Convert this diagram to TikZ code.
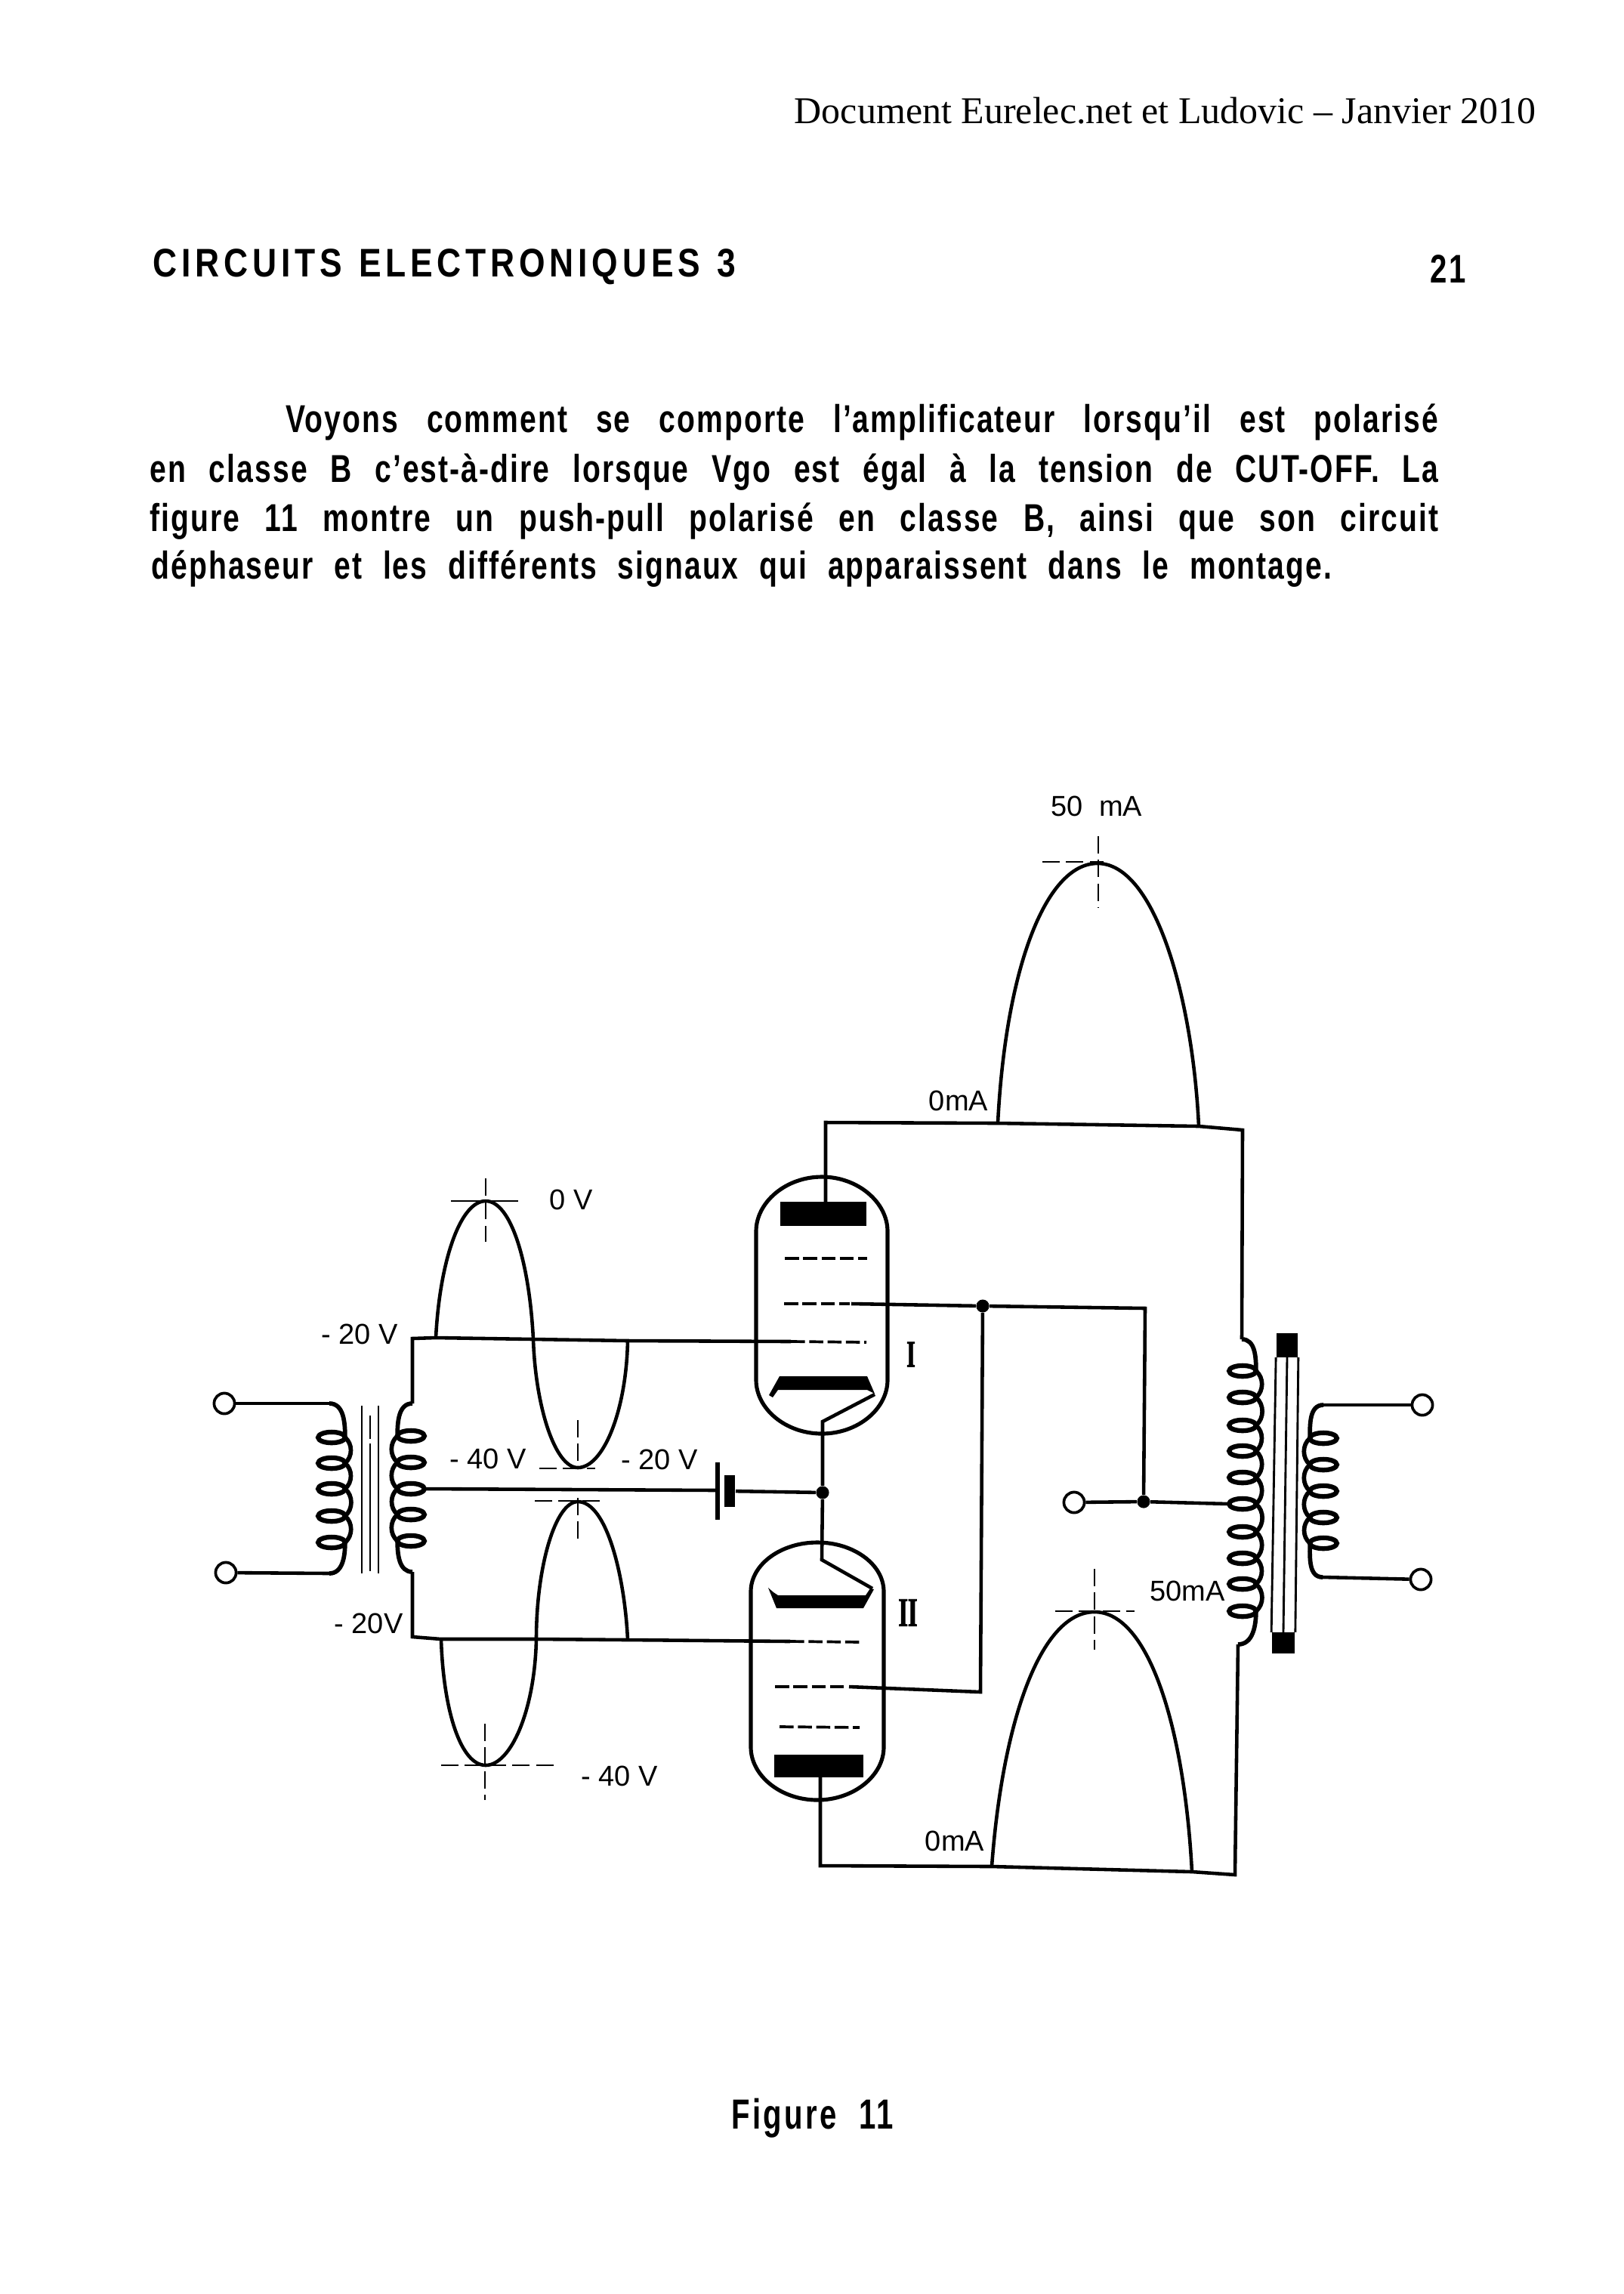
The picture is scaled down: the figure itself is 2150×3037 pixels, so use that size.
\documentclass[tikz,border=0pt]{standalone}
\usepackage{fontspec}
\setmainfont{Liberation Serif}
\setsansfont{Liberation Sans}
\newfontfamily\scanfont[FakeStretch=0.76,LetterSpace=4]{Liberation Sans}
\newfontfamily\titlefont[FakeStretch=0.84,LetterSpace=11]{Liberation Sans}
\newfontfamily\figfont[FakeStretch=0.72,LetterSpace=6]{Liberation Sans}
\newfontfamily\tubefont[FakeStretch=0.6,FakeBold=1.5]{Liberation Serif}
\usetikzlibrary{shapes.geometric}
\tikzset{
    wire/.style={line width=1.6pt},
    wave/.style={line width=1.6pt},
    tube/.style={line width=1.8pt},
    cross/.style={line width=1pt, dash pattern=on 8pt off 3pt},
    griddash/.style={line width=1.3pt, dash pattern=on 6.5pt off 2pt},
    coreline/.style={line width=1pt},
    turn/.style={ellipse, draw, line width=2.2pt, minimum width=12.5pt, minimum height=5pt, inner sep=0pt, outer sep=0pt},
    scallop/.style={line width=2pt},
    terminal/.style={circle, draw, fill=white, line width=1.3pt, minimum size=9.5pt, inner sep=0pt},
    dot/.style={circle, fill=black, minimum size=6pt, inner sep=0pt},
    block/.style={rectangle, fill=black, inner sep=0pt},
    label/.style={inner sep=0pt, font=\sffamily\fontsize{13.3}{15}\selectfont},
    bookline/.style={anchor=base west, inner sep=0pt, font=\scanfont\bfseries\fontsize{18}{20}\selectfont},
}
\begin{document}
\begin{tikzpicture}[x=0.35pt, y=-0.35pt]
    \useasboundingbox (0,0) rectangle (2150,3037);

    \node[anchor=base east, inner sep=0pt, font=\fontsize{17.5}{19}\selectfont] (header) at (2034,163) {Document Eurelec.net et Ludovic – Janvier 2010};
    \node[anchor=base west, inner sep=0pt, font=\titlefont\bfseries\fontsize{18.5}{20}\selectfont] (title) at (202,366) {\makebox[270pt][s]{CIRCUITS ELECTRONIQUES 3}};
    \node[anchor=base east, inner sep=0pt, font=\scanfont\bfseries\fontsize{18.5}{20}\selectfont] (page) at (1941,374) {21};
    \node[bookline] (line1) at (378,572) {\makebox[534pt][s]{Voyons comment se comporte l’amplificateur lorsqu’il est polarisé}};
    \node[bookline] (line2) at (198,638) {\makebox[597pt][s]{en classe B c’est-à-dire lorsque Vgo est égal à la tension de CUT-OFF. La}};
    \node[bookline] (line3) at (198,703) {\makebox[597pt][s]{figure 11 montre un push-pull polarisé en classe B, ainsi que son circuit}};
    \node[bookline] (line4) at (200,766) {\makebox[547pt][s]{déphaseur et les différents signaux qui apparaissent dans le montage.}};
    \node[anchor=base west, inner sep=0pt, font=\figfont\bfseries\fontsize{19.5}{22}\selectfont] (figure) at (968,2818) {\makebox[75pt][s]{Figure 11}};

    \node[terminal] (in1) at (297,1858) {};
    \node[terminal] (in2) at (299,2082) {};
    \node[terminal] (mid) at (1422,1989) {};
    \node[terminal] (out1) at (1883,1860) {};
    \node[terminal] (out2) at (1881,2091) {};

    \node[turn] (p1) at (439,1903) {};
    \node[turn] (p2) at (439,1937) {};
    \node[turn] (p3) at (439,1971) {};
    \node[turn] (p4) at (439,2007) {};
    \node[turn] (p5) at (439,2042) {};

    \node[turn] (s1) at (544,1901) {};
    \node[turn] (s2) at (544,1936) {};
    \node[turn] (s3) at (544,1971) {};
    \node[turn] (s4) at (544,2005) {};
    \node[turn] (s5) at (544,2040) {};

    \node[turn] (m1) at (1645,1815) {};
    \node[turn] (m2) at (1645,1850) {};
    \node[turn] (m3) at (1645,1887) {};
    \node[turn] (m4) at (1645,1921) {};
    \node[turn] (m5) at (1645,1956) {};
    \node[turn] (m6) at (1645,1991) {};
    \node[turn] (m7) at (1645,2028) {};
    \node[turn] (m8) at (1645,2063) {};
    \node[turn] (m9) at (1645,2097) {};
    \node[turn] (m10) at (1645,2133) {};

    \node[turn] (o1) at (1752,1904) {};
    \node[turn] (o2) at (1752,1939) {};
    \node[turn] (o3) at (1752,1974) {};
    \node[turn] (o4) at (1752,2009) {};
    \node[turn] (o5) at (1752,2043) {};

    \node[dot] (jgrid) at (1301,1729) {};
    \node[dot] (jcath) at (1089,1976) {};
    \node[dot] (jmid) at (1514,1988) {};

    \node[block, minimum width=40.2pt, minimum height=10.9pt] (plate1) at (1090,1607) {};
    \node[block, minimum width=41pt, minimum height=10.2pt] (plate2) at (1084,2338) {};
    \node[block, minimum width=5.2pt, minimum height=14.7pt] (bat) at (966,1974) {};
    \node[block, minimum width=10pt, minimum height=10.9pt] (coretop) at (1704,1781) {};
    \node[block, minimum width=10.7pt, minimum height=9.5pt] (corebot) at (1699,2175) {};

    \coordinate (pa) at (436,1858);
    \coordinate (pb) at (436,2083);
    \coordinate (sa) at (546,1858);
    \coordinate (sb) at (546,2081);
    \coordinate (ma) at (1644,1773);
    \coordinate (mb) at (1639,2177);
    \coordinate (oa) at (1752,1860);
    \coordinate (ob) at (1751,2088);
    \coordinate (c1) at (546,1772);
    \coordinate (c2) at (546,2167);
    \coordinate (topl) at (1093,1486);
    \coordinate (topr) at (1645,1496);
    \coordinate (botl) at (1086,2470);
    \coordinate (botr) at (1635,2482);
    \coordinate (griddn) at (1298,2240);
    \coordinate (gridrt) at (1516,1732);
    \coordinate (ka) at (1158,1846);
    \coordinate (kb) at (1089,1882);
    \coordinate (kc) at (1088,2065);
    \coordinate (kd) at (1155,2103);
    \coordinate (bata) at (950,1936);
    \coordinate (batb) at (950,2012);
    \coordinate (batc) at (950,1973);

    \coordinate (w1a) at (577,1771);
    \coordinate (w1p) at (643,1590);
    \coordinate (w1m) at (706,1773);
    \coordinate (w1b) at (765,1943);
    \coordinate (w1e) at (831,1775);
    \coordinate (w2a) at (710,2170);
    \coordinate (w2p) at (765,1988);
    \coordinate (w2e) at (831,2171);
    \coordinate (w3a) at (584,2170);
    \coordinate (w3b) at (643,2337);
    \coordinate (w4a) at (1321,1487);
    \coordinate (w4p) at (1453,1143);
    \coordinate (w4e) at (1587,1491);
    \coordinate (w5a) at (1313,2471);
    \coordinate (w5p) at (1449,2134);
    \coordinate (w5e) at (1578,2478);

    \coordinate (g11) at (1039,1666);
    \coordinate (g12) at (1148,1666);
    \coordinate (g21) at (1038,1726);
    \coordinate (g22) at (1125,1726);
    \coordinate (g23) at (1127,1726);
    \coordinate (g31) at (1047,1776);
    \coordinate (g32) at (1147,1777);
    \coordinate (h11) at (1046,2173);
    \coordinate (h12) at (1143,2174);
    \coordinate (h21) at (1026,2233);
    \coordinate (h22) at (1118,2233);
    \coordinate (h23) at (1124,2233);
    \coordinate (h31) at (1032,2286);
    \coordinate (h32) at (1138,2287);

    \draw[wire] (in1) -- (pa);
    \draw[wire] (in2) -- (pb);
    \draw[scallop] (pa) to[out=0, in=90] (p1.east);
    \draw[scallop] (p1.east) to[bend left=50] (p2.east);
    \draw[scallop] (p2.east) to[bend left=50] (p3.east);
    \draw[scallop] (p3.east) to[bend left=50] (p4.east);
    \draw[scallop] (p4.east) to[bend left=50] (p5.east);
    \draw[scallop] (p5.east) to[out=-90, in=0] (pb);

    \draw[scallop] (sa) to[out=180, in=90] (s1.west);
    \draw[scallop] (s1.west) to[bend right=50] (s2.west);
    \draw[scallop] (s2.west) to[bend right=50] (s3.west);
    \draw[scallop] (s3.west) to[bend right=50] (s4.west);
    \draw[scallop] (s4.west) to[bend right=50] (s5.west);
    \draw[scallop] (s5.west) to[out=-90, in=180] (sb);

    \draw[scallop] (ma) to[out=0, in=90] (m1.east);
    \draw[scallop] (m1.east) to[bend left=50] (m2.east);
    \draw[scallop] (m2.east) to[bend left=50] (m3.east);
    \draw[scallop] (m3.east) to[bend left=50] (m4.east);
    \draw[scallop] (m4.east) to[bend left=50] (m5.east);
    \draw[scallop] (m5.east) to[bend left=50] (m6.east);
    \draw[scallop] (m6.east) to[bend left=50] (m7.east);
    \draw[scallop] (m7.east) to[bend left=50] (m8.east);
    \draw[scallop] (m8.east) to[bend left=50] (m9.east);
    \draw[scallop] (m9.east) to[bend left=50] (m10.east);
    \draw[scallop] (m10.east) to[out=-90, in=0] (mb);

    \draw[scallop] (oa) to[out=180, in=90] (o1.west);
    \draw[scallop] (o1.west) to[bend right=50] (o2.west);
    \draw[scallop] (o2.west) to[bend right=50] (o3.west);
    \draw[scallop] (o3.west) to[bend right=50] (o4.west);
    \draw[scallop] (o4.west) to[bend right=50] (o5.west);
    \draw[scallop] (o5.west) to[out=-90, in=180] (ob);
    \draw[wire] (oa) -- (out1);
    \draw[wire] (ob) -- (out2);

    \coordinate (k1a) at (479,1861);
    \coordinate (k1b) at (479,2083);
    \coordinate (k2a) at (490,1874);
    \coordinate (k2b) at (490,2080);
    \coordinate (k3a) at (501,1861);
    \coordinate (k3b) at (501,2083);
    \draw[coreline] (k1a) -- (k1b);
    \draw[coreline, dash pattern=on 11pt off 2pt on 100pt] (k2a) -- (k2b);
    \draw[coreline] (k3a) -- (k3b);

    \draw[coreline] (coretop.south west) -- (corebot.north west);
    \draw[coreline] (coretop.south) -- (corebot.north);
    \draw[coreline] (coretop.south east) -- (corebot.north east);

    \draw[wire] (sa) -- (c1) -- (w1a) -- (w1m) -- (w1e) -- (g31);
    \draw[wire] (sb) -- (c2) -- (w3a) -- (w2a) -- (w2e) -- (h11);
    \draw[wire] (s3.east) -- (batc);
    \draw[line width=1.8pt] (bata) -- (batb);
    \draw[wire] (bat) -- (jcath);

    \draw[wire] (plate1.north -| topl) -- (topl) -- (w4a) -- (w4e) -- (topr) -- (ma);
    \draw[wire] (plate2.south -| botl) -- (botl) -- (w5a) -- (w5e) -- (botr) -- (mb);
    \draw[wire] (ka) -- (kb) -- (jcath) -- (kc) -- (kd);
    \draw[wire] (g23) -- (jgrid) -- (gridrt) -- (jmid);
    \draw[wire] (h23) -- (griddn) -- (jgrid);
    \draw[wire] (mid) -- (jmid) -- (m6.west);

    \draw[griddash] (g11) -- (g12);
    \draw[griddash] (g21) -- (g22);
    \draw[griddash] (g31) -- (g32);
    \draw[griddash] (h11) -- (h12);
    \draw[griddash] (h21) -- (h22);
    \draw[griddash] (h31) -- (h32);

    \draw[tube] (1088,1558) .. controls +(48,0) and +(0,-38) .. (1175,1630) -- (1175,1827) .. controls +(0,38) and +(48,0) .. (1088,1898) .. controls +(-48,0) and +(0,38) .. (1001,1827) -- (1001,1630) .. controls +(0,-38) and +(-48,0) .. (1088,1558) -- cycle;
    \draw[tube] (1082,2042) .. controls +(48,0) and +(0,-36) .. (1170,2107) -- (1170,2313) .. controls +(0,38) and +(48,0) .. (1082,2383) .. controls +(-48,0) and +(0,38) .. (994,2313) -- (994,2107) .. controls +(0,-36) and +(-48,0) .. (1082,2042) -- cycle;

    \fill (1032,1822) -- (1148,1822) -- (1158,1845) -- (1148,1840) -- (1030,1840) -- (1023,1850) -- (1018,1847) -- cycle;
    \fill (1017,2102) -- (1024,2108) -- (1030,2112) -- (1146,2112) -- (1152,2103) -- (1157,2104) -- (1143,2129) -- (1028,2129) -- cycle;

    \draw[wave] (w1a) .. controls +(5,-100) and +(-34,0) .. (w1p);
    \draw[wave] (w1p) .. controls +(34,0) and +(-5,-100) .. (w1m);
    \draw[wave] (w1m) .. controls +(3,90) and +(-30,0) .. (w1b);
    \draw[wave] (w1b) .. controls +(33,0) and +(-2,95) .. (w1e);
    \draw[wave] (w2a) .. controls +(0,-95) and +(-30,0) .. (w2p);
    \draw[wave] (w2p) .. controls +(38,0) and +(-4,-85) .. (w2e);
    \draw[wave] (w3a) .. controls +(3,95) and +(-33,0) .. (w3b);
    \draw[wave] (w3b) .. controls +(33,0) and +(-2,95) .. (w2a);
    \draw[wave] (w4a) .. controls +(10,-200) and +(-70,0) .. (w4p);
    \draw[wave] (w4p) .. controls +(76,0) and +(-8,-170) .. (w4e);
    \draw[wave] (w5a) .. controls +(14,-190) and +(-72,0) .. (w5p);
    \draw[wave] (w5p) .. controls +(72,0) and +(-10,-190) .. (w5e);

    \coordinate (x1a) at (643,1560);
    \coordinate (x1b) at (643,1644);
    \coordinate (x1c) at (597,1590);
    \coordinate (x1d) at (693,1590);
    \coordinate (x2a) at (765,1880);
    \coordinate (x2b) at (765,1943);
    \coordinate (x2c) at (714,1944);
    \coordinate (x2d) at (788,1944);
    \coordinate (x3a) at (765,1983);
    \coordinate (x3b) at (765,2042);
    \coordinate (x3c) at (708,1987);
    \coordinate (x3d) at (798,1987);
    \coordinate (x4a) at (642,2282);
    \coordinate (x4b) at (642,2383);
    \coordinate (x4c) at (584,2337);
    \coordinate (x4d) at (740,2337);
    \coordinate (x5a) at (1454,1107);
    \coordinate (x5b) at (1454,1202);
    \coordinate (x5c) at (1380,1141);
    \coordinate (x5d) at (1461,1141);
    \coordinate (x6a) at (1449,2077);
    \coordinate (x6b) at (1449,2184);
    \coordinate (x6c) at (1397,2133);
    \coordinate (x6d) at (1502,2133);
    \draw[cross] (x1a) -- (x1b);
    \draw[cross, dash pattern=on 14pt off 3pt] (x1c) -- (x1d);
    \draw[cross] (x2a) -- (x2b);
    \draw[cross] (x2c) -- (x2d);
    \draw[cross] (x3a) -- (x3b);
    \draw[cross] (x3c) -- (x3d);
    \draw[cross] (x4a) -- (x4b);
    \draw[cross] (x4c) -- (x4d);
    \draw[cross] (x5a) -- (x5b);
    \draw[cross] (x5c) -- (x5d);
    \draw[cross] (x6a) -- (x6b);
    \draw[cross] (x6c) -- (x6d);

    \node[label] (v0) at (756,1588) {0 V};
    \node[label] (v20a) at (476,1766) {- 20 V};
    \node[label] (v40a) at (646,1931) {- 40 V};
    \node[label] (v20b) at (873,1932) {- 20 V};
    \node[label] (v20c) at (488,2149) {- 20V};
    \node[label] (v40b) at (820,2351) {- 40 V};
    \node[label] (i50a) at (1452,1067) {50\ \ mA};
    \node[label] (i0a) at (1269,1457) {0mA};
    \node[label] (i0b) at (1264,2437) {0mA};
    \node[label] (i50b) at (1572,2106) {50mA};
    \node[inner sep=0pt, font=\tubefont\bfseries\fontsize{17.5}{20}\selectfont] (tube1) at (1206,1793) {I};
    \node[inner sep=0pt, font=\tubefont\bfseries\fontsize{19}{20}\selectfont] (tube2) at (1202,2135) {II};
\end{tikzpicture}
\end{document}
